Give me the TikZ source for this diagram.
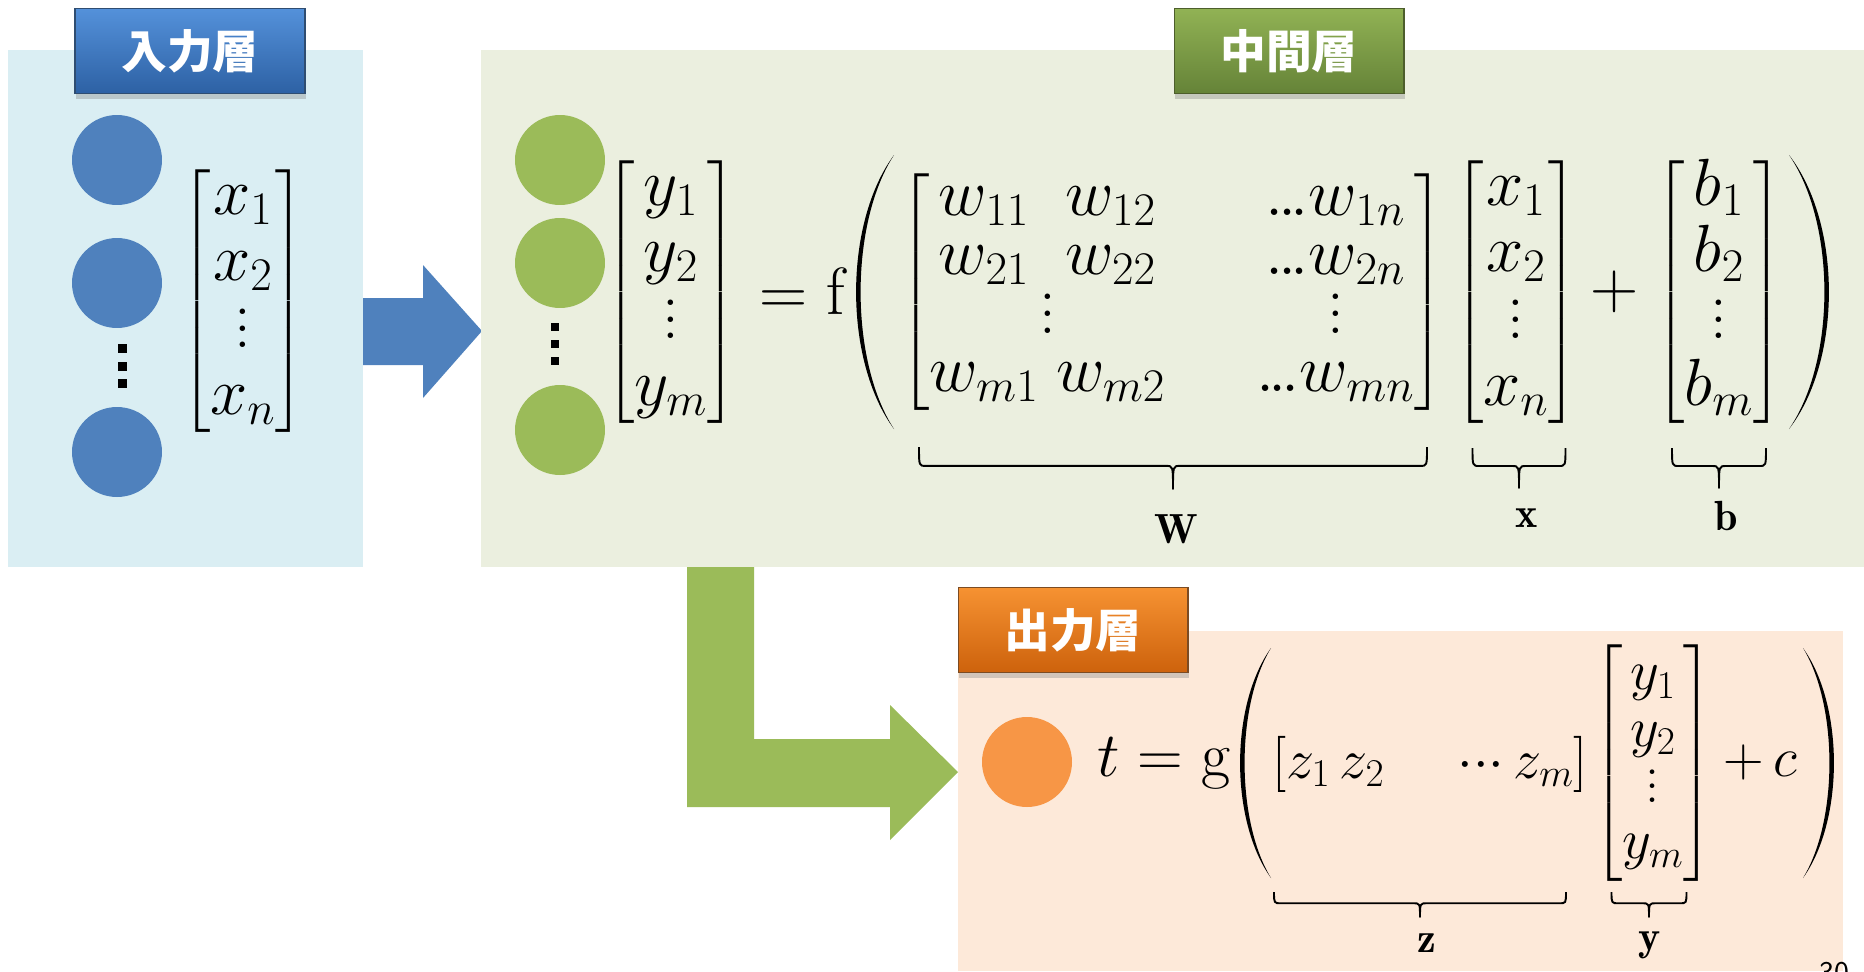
\RequirePackage{fix-cm}
\documentclass[tikz,border=0pt]{standalone}
\usepackage{amsmath}
\usepackage{fontspec}
\newfontfamily\jpfont{Noto Sans CJK JP}
\usetikzlibrary{shadows}
\definecolor{nodeblue}{HTML}{4F81BD}
\definecolor{panelblue}{HTML}{DAEEF3}
\definecolor{nodegreen}{HTML}{9BBB59}
\definecolor{panelgreen}{HTML}{EBEFDF}
\definecolor{nodeorange}{HTML}{F79646}
\definecolor{panelorange}{HTML}{FDE9D9}
% vertical dots that grow with the font size
\newcommand{\colvdots}{\vbox{\baselineskip=0.25em \lineskiplimit=0pt \hbox{.}\hbox{.}\hbox{.}}}
\newcommand{\rowdots}{{.}\mkern-1.5mu{.}\mkern-1.5mu{.}}

\begin{document}
\begin{tikzpicture}[
        x=0.02cm, y=-0.02cm,
        layertag/.style={
            minimum width=4.6cm,
            minimum height=1.7cm,
            inner sep=0pt,
            text=white,
            line width=0.6pt,
            font=\jpfont\bfseries\fontsize{26}{30}\selectfont,
            drop shadow={shadow xshift=0.5pt, shadow yshift=-3pt, opacity=0.35}
        },
        neuron/.style={circle, minimum size=1.8cm, inner sep=0pt},
        eq/.style={inner sep=0pt, font=\fontsize{38}{38}\selectfont},
        eqsmall/.style={inner sep=0pt, font=\fontsize{32}{32}\selectfont},
        vecname/.style={inner sep=0pt, font=\fontsize{24}{28}\selectfont},
        pics/paren/.style 2 args={code={
            \fill (0,{-#1/2}) .. controls ({-1.33*#2},{-#1/4}) and ({-1.33*#2},{#1/4}) .. (0,{#1/2})
                .. controls ({-1.33*#2+6},{#1/4}) and ({-1.33*#2+6},{-#1/4}) .. cycle;
        }},
        pics/ubrace/.style 2 args={code={
            \draw[line width=1.1pt, line join=round]
                ({-#1/2},0) .. controls ({-#1/2},{0.45*#2}) .. ({-#1/2+7},{0.45*#2})
                -- (-7,{0.45*#2}) .. controls (0,{0.45*#2}) .. (0,#2)
                .. controls (0,{0.45*#2}) .. (7,{0.45*#2})
                -- ({#1/2-7},{0.45*#2}) .. controls ({#1/2},{0.45*#2}) .. ({#1/2},0);
        }}
    ]
    \useasboundingbox (0,0) rectangle (1864,971);

    % input layer
    \fill[panelblue] (8,50) rectangle (363,567);
    \node[layertag, draw=nodeblue!60!black, top color={rgb,255:red,84;green,145;blue,218},
        middle color={rgb,255:red,61;green,124;blue,199}, bottom color={rgb,255:red,45;green,97;blue,164}] (intag) at (190,51) {入力層};
    \node[neuron, fill=nodeblue] (in1) at (117,160) {};
    \node[neuron, fill=nodeblue] (in2) at (117,283) {};
    \node[neuron, fill=nodeblue] (inn) at (117,452) {};
    \foreach \d in {348,366,383}
        \fill (122,\d) +(-4.5,-4.5) rectangle +(4.5,4.5);
    \node[eq] (xin) at (243,301) {$\begin{bmatrix} x_1\\ x_2\\ \colvdots\\ x_n \end{bmatrix}$};

    % input -> hidden
    \fill[nodeblue] (363,298) -- (423,298) -- (423,265) -- (482,331) -- (423,398)
        -- (423,365) -- (363,365) -- cycle;

    % hidden layer
    \fill[panelgreen] (481,50) rectangle (1864,567);
    \node[layertag, draw=nodegreen!50!black, top color={rgb,255:red,145;green,178;blue,84},
        middle color={rgb,255:red,127;green,159;blue,69}, bottom color={rgb,255:red,101;green,131;blue,56}] (midtag) at (1289,51) {中間層};
    \node[neuron, fill=nodegreen] (mid1) at (560,160) {};
    \node[neuron, fill=nodegreen] (mid2) at (560,263) {};
    \node[neuron, fill=nodegreen] (midm) at (560,430) {};
    \foreach \d in {327,344,361}
        \fill (555,\d) +(-4,-4) rectangle +(4,4);
    \node[eq] (ymid) at (671,292) {$\begin{bmatrix} y_1\\ y_2\\ \colvdots\\ y_m \end{bmatrix}$};
    \node[eq] (eqf) at (802,291) {$=\mathrm{f}$};
    \pic at (894,292) {paren={274}{38}};
    \node[eq] (wmat) at (1172,292) {\renewcommand{\arraystretch}{0.88}$\begin{bmatrix}
        w_{11} & w_{12} & \hspace{1.1em}\rowdots w_{1n}\\
        w_{21} & w_{22} & \hspace{1.1em}\rowdots w_{2n}\\
        \multicolumn{2}{c}{\colvdots} & \hspace{1.1em}\colvdots\\
        w_{m1} & w_{m2} & \hspace{1.1em}\rowdots w_{mn}
        \end{bmatrix}$};
    \node[eq] (xmid) at (1516,292) {$\begin{bmatrix} x_1\\ x_2\\ \colvdots\\ x_n \end{bmatrix}$};
    \node[eq] (plusb) at (1615,292) {$+$};
    \node[eq] (bvec) at (1719,292) {$\begin{bmatrix} b_1\\ b_2\\ \colvdots\\ b_m \end{bmatrix}$};
    \pic[xscale=-1] at (1789,292) {paren={274}{40}};

    \pic at (1173,447) {ubrace={508}{42}};
    \pic at (1519,448) {ubrace={93}{40}};
    \pic at (1719,448) {ubrace={94}{40}};
    \node[vecname] (wname) at (1176,529) {$\mathbf{W}$};
    \node[vecname] (xname) at (1527,518) {$\mathbf{x}$};
    \node[vecname] (bname) at (1726,516) {$\mathbf{b}$};

    % hidden -> output
    \fill[nodegreen] (687,567) -- (754,567) -- (754,739) -- (890,739) -- (890,705)
        -- (958,772) -- (890,840) -- (890,807) -- (687,807) -- cycle;

    % output layer
    \fill[panelorange] (958,631) rectangle (1843,971);
    \node[layertag, draw=nodeorange!50!black, top color={rgb,255:red,246;green,146;blue,50},
        middle color={rgb,255:red,240;green,120;blue,20}, bottom color={rgb,255:red,205;green,98;blue,12}] (outtag) at (1073,630) {出力層};
    \node[neuron, fill=nodeorange] (out) at (1027,762) {};
    \node[eqsmall, font=\fontsize{36}{36}\selectfont] (tg) at (1164,763) {$t=\mathrm{g}$};
    \pic at (1271,763) {paren={230}{31}};
    \node[eqsmall] (zrow) at (1430,764) {$[z_1\,z_2\hspace{1.3em}{\cdot}{\cdot}{\cdot}\,z_m]$};
    \node[eqsmall] (yout) at (1653,763) {$\begin{bmatrix} y_1\\ y_2\\ \colvdots\\ y_m \end{bmatrix}$};
    \node[eqsmall] (plusc) at (1760,762) {$+\,c$};
    \pic[xscale=-1] at (1803,763) {paren={230}{31}};

    \pic at (1420,892) {ubrace={292}{25}};
    \pic at (1649,892) {ubrace={75}{25}};
    \node[vecname] (zname) at (1427,943) {$\mathbf{z}$};
    \node[vecname] (yname) at (1650,945) {$\mathbf{y}$};

    \node[inner sep=0pt, anchor=north, font=\sffamily\fontsize{18}{20}\selectfont] (pageno) at (1834,962) {30};
\end{tikzpicture}
\end{document}
